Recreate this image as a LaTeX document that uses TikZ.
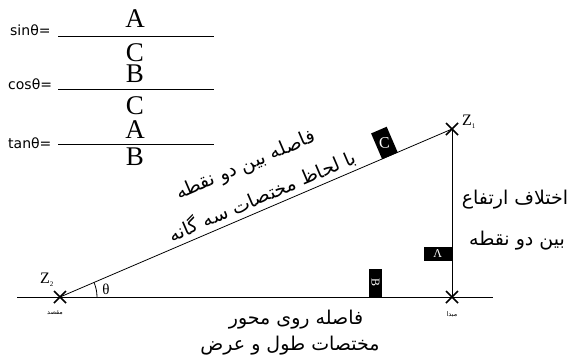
\documentclass[tikz,border=0pt]{standalone}
\usepackage{fontspec}
\usetikzlibrary{calc}
\setmainfont{Liberation Serif}
\newfontfamily\fa[Script=Arabic]{DejaVu Sans}
\newfontfamily\lat{DejaVu Sans}
\TeXXeTstate=1
\begin{document}
\begin{tikzpicture}[x=1pt,y=-1pt,
  big/.style={inner sep=0pt,font=\fontsize{27}{27}\selectfont},
  trig/.style={inner sep=0pt,anchor=west,font=\lat\fontsize{14}{14}\selectfont},
  fatext/.style={inner sep=0pt,font=\fa\fontsize{19}{20}\selectfont},
  fasmall/.style={inner sep=0pt,font=\fa\fontsize{6.5}{7}\selectfont},
  crossmark/.style={line width=1.6pt},
  blackbox/.style={fill=black,text=white,inner sep=0pt},
  ln/.style={line width=0.8pt}]
\useasboundingbox (0,0) rectangle (575,360);
\fill[white] (0,0) rectangle (575,360);
% fractions
\node[trig] (s) at (10,30) {sinθ=};
\coordinate (s1) at (58,36); \coordinate (s2) at (214,36);
\draw[ln] (s1) -- (s2);
\node[big] (sa) at (135,19) {A};
\node[big] (sc) at (135,53) {C};
\node[trig] (c) at (8,84) {cosθ=};
\coordinate (c1) at (58,89); \coordinate (c2) at (214,89);
\draw[ln] (c1) -- (c2);
\node[big] (cb) at (135,74) {B};
\node[big] (cc) at (135,106) {C};
\node[trig] (t) at (8,143) {tanθ=};
\coordinate (t1) at (58,144); \coordinate (t2) at (214,144);
\draw[ln] (t1) -- (t2);
\node[big] (ta) at (135,130) {A};
\node[big] (tb) at (135,157) {B};
% triangle
\coordinate (L) at (17,297);
\coordinate (R) at (493,297);
\coordinate (z2) at (60,297);
\coordinate (z1) at (452,129);
\coordinate (o) at (452,297);
\draw[ln] (L) -- (R);
\draw[ln] (z2) -- (z1);
\draw[ln] (z1) -- (o);
\foreach \p in {z1,z2,o}
  \draw[crossmark] ($(\p)+(-6,-6)$) -- ($(\p)+(6,6)$) ($(\p)+(-6,6)$) -- ($(\p)+(6,-6)$);
% angle
\draw[ln] ([shift={(37,0)}]z2) arc[start angle=0,end angle=-23.2,radius=37];
\node[inner sep=0pt,font=\fontsize{15}{15}\selectfont] (th) at (106,289) {θ};
\node[inner sep=0pt,font=\fontsize{16}{16}\selectfont] (Z2) at (47,280) {Z\textsubscript{\fontsize{7}{7}\selectfont 2}};
\node[inner sep=0pt,font=\fontsize{16}{16}\selectfont] (Z1) at (469,122) {Z\textsubscript{\fontsize{7}{7}\selectfont 1}};
\node[fasmall] (dest) at (55,313) {\beginR مقصد\endR};
\node[fasmall] (orig) at (452,314) {\beginR مبدا\endR};
% boxes
\node[blackbox,minimum width=17pt,minimum height=28pt,rotate=23.2,anchor=south,font=\fontsize{16}{16}\selectfont] (bc) at (390,156) {\rotatebox{-20}{C}};
\node[blackbox,minimum width=13pt,minimum height=28pt,anchor=south,font=\fontsize{12}{12}\selectfont] (bb) at (375.5,297) {\rotatebox{-90}{B}};
\node[blackbox,minimum width=28pt,minimum height=14pt,anchor=east,font=\fontsize{12}{12}\selectfont] (ba) at (452,254) {Λ};
% persian labels
\node[fatext,rotate=23.2] (h1) at (246,166) {\beginR فاصله بین دو نقطه\endR};
\node[fatext,rotate=23.2] (h2) at (262,196) {\beginR با لحاظ مختصات سه گانه\endR};
\node[fatext] (v1) at (515,200) {\beginR اختلاف ارتفاع\endR};
\node[fatext] (v2) at (517,241) {\beginR بین دو نقطه\endR};
\node[fatext] (b1) at (296,320) {\beginR فاصله روی محور\endR};
\node[fatext] (b2) at (290,346) {\beginR مختصات طول و عرض\endR};
\end{tikzpicture}
\end{document}
